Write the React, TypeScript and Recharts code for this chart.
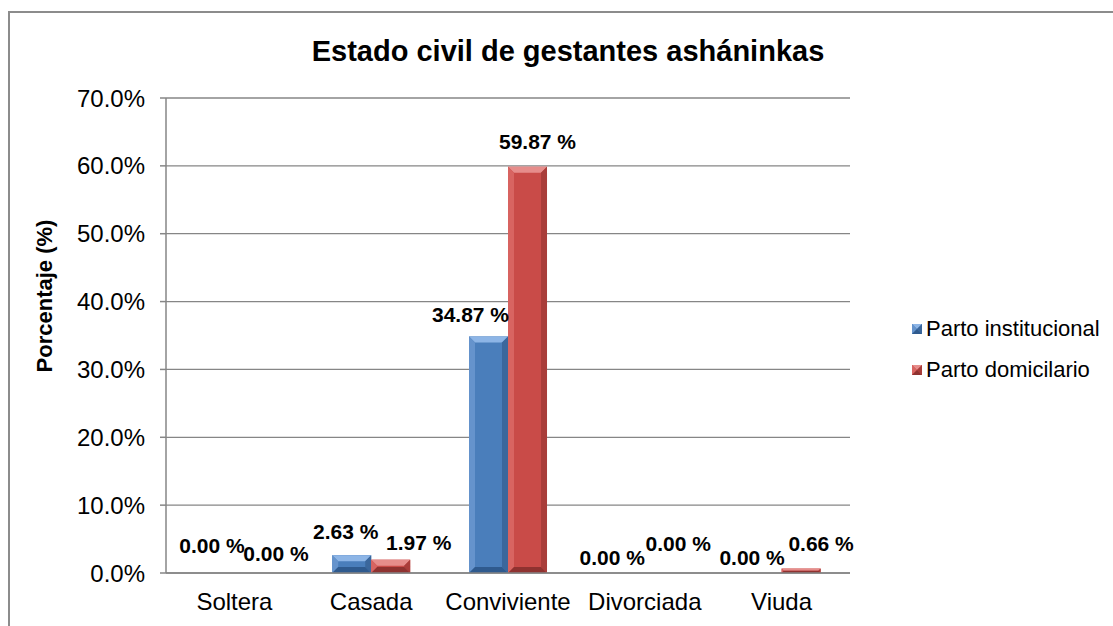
import { BarChart, Bar, XAxis, YAxis, CartesianGrid, LabelList } from 'recharts';

const categories = ['Soltera', 'Casada', 'Conviviente', 'Divorciada', 'Viuda'];
const institucional = [0, 2.63, 34.87, 0, 0];
const domicilario = [0, 1.97, 59.87, 0, 0.66];
const yTicks = [0, 10, 20, 30, 40, 50, 60, 70];

// manual label nudges (Excel had them dragged around)
const blueLabelDx = [-3, -6, -18, -13, -10];
const blueLabelDy = [-28, -24, -22, -16, -16];
const redLabelDx = [22, 28, 10, 14, 20];
const redLabelDy = [-20, -17, -25, -30, -25];

const data = categories.map((name, i) => ({ name, institucional: institucional[i], domicilario: domicilario[i] }));

const FONT = '"Liberation Sans", Arial, sans-serif';
const AXIS = '#868686';

const BLUE = { body: '#4A7EBB', top: '#8DB5E6', left: '#6593CC', right: '#3B679C', bottom: '#2F5A8E' };
const RED = { body: '#C94B48', top: '#E68D8B', left: '#D86461', right: '#A93D3A', bottom: '#8F3230' };

function BevelBar(props: any) {
  const { x, y, width: w, height: h, pal } = props;
  if (!h || h <= 0) return null;
  const b = Math.min(6, h / 2, w / 2);
  const x2 = x + w;
  const y2 = y + h;
  return (
    <g>
      <rect x={x} y={y} width={w} height={h} fill={pal.body} />
      <polygon points={`${x},${y} ${x2},${y} ${x2 - b},${y + b} ${x + b},${y + b}`} fill={pal.top} />
      <polygon points={`${x},${y} ${x + b},${y + b} ${x + b},${y2 - b} ${x},${y2}`} fill={pal.left} />
      <polygon points={`${x2},${y} ${x2},${y2} ${x2 - b},${y2 - b} ${x2 - b},${y + b}`} fill={pal.right} />
      <polygon points={`${x},${y2} ${x + b},${y2 - b} ${x2 - b},${y2 - b} ${x2},${y2}`} fill={pal.bottom} />
    </g>
  );
}

function makeLabel(dxs: number[], dys: number[]) {
  return (props: any) => {
    const { x, y, width, value, index } = props;
    const cx = Number(x) + Number(width) / 2 + (dxs[index] ?? 0);
    const cy = Number(y) + (dys[index] ?? -20);
    return (
      <text x={cx} y={cy} textAnchor="middle" dominantBaseline="central" fontFamily={FONT} fontSize={21} fontWeight="bold" fill="#000">
        {`${Number(value).toFixed(2)} %`}
      </text>
    );
  };
}

export default function App() {
  return (
    <div style={{ position: 'absolute', left: 0, top: 0, width: 1113, height: 626, overflow: 'hidden', background: '#fff', fontFamily: FONT }}>
      <div style={{ position: 'absolute', left: 8, top: 11, width: 1200, height: 700, borderLeft: '2px solid #8c8c8c', borderTop: '2px solid #8c8c8c' }} />
      <div style={{ position: 'absolute', left: 568, top: 37, transform: 'translateX(-50%)', fontSize: 29, fontWeight: 'bold', lineHeight: 1, whiteSpace: 'nowrap' }}>
        Estado civil de gestantes asháninkas
      </div>
      <div style={{ position: 'absolute', left: 45, top: 296, transform: 'translate(-50%, -50%) rotate(-90deg)', fontSize: 22, fontWeight: 'bold', lineHeight: 1, whiteSpace: 'nowrap' }}>
        Porcentaje (%)
      </div>
      <div style={{ position: 'absolute', left: 0, top: 0 }}>
        <BarChart width={1113} height={626} data={data} margin={{ top: 98, right: 263, bottom: 0, left: 0 }} barCategoryGap="21.5%" barGap={0}>
          <CartesianGrid horizontal vertical={false} stroke={AXIS} strokeWidth={1.3} />
          <XAxis dataKey="name" height={53} axisLine={{ stroke: AXIS, strokeWidth: 1.5 }} tickLine={false} tickSize={0} tickMargin={20}
            tick={{ fontSize: 24, fill: '#000', fontFamily: FONT }} interval={0} />
          <YAxis width={166} domain={[0, 70]} ticks={yTicks} tickFormatter={(v) => `${Number(v).toFixed(1)}%`}
            axisLine={{ stroke: AXIS, strokeWidth: 1.5 }} tickLine={{ stroke: AXIS, strokeWidth: 1.5 }} tickSize={6} tickMargin={15}
            tick={{ fontSize: 24, fill: '#000', fontFamily: FONT }} interval={0} />
          <Bar dataKey="institucional" fill={BLUE.body} isAnimationActive={false} shape={(p: any) => <BevelBar {...p} pal={BLUE} />}>
            <LabelList dataKey="institucional" content={makeLabel(blueLabelDx, blueLabelDy)} />
          </Bar>
          <Bar dataKey="domicilario" fill={RED.body} isAnimationActive={false} shape={(p: any) => <BevelBar {...p} pal={RED} />}>
            <LabelList dataKey="domicilario" content={makeLabel(redLabelDx, redLabelDy)} />
          </Bar>
        </BarChart>
      </div>
      {[{ label: 'Parto institucional', pal: BLUE, cy: 329 }, { label: 'Parto domicilario', pal: RED, cy: 370 }].map((it) => (
        <div key={it.label} style={{ position: 'absolute', left: 912, top: it.cy - 13, height: 26, display: 'flex', alignItems: 'center', fontSize: 22, whiteSpace: 'nowrap' }}>
          <svg width={10} height={10} style={{ marginRight: 4 }}>
            <BevelBar x={0} y={0} width={10} height={10} pal={it.pal} />
          </svg>
          <span>{it.label}</span>
        </div>
      ))}
    </div>
  );
}
